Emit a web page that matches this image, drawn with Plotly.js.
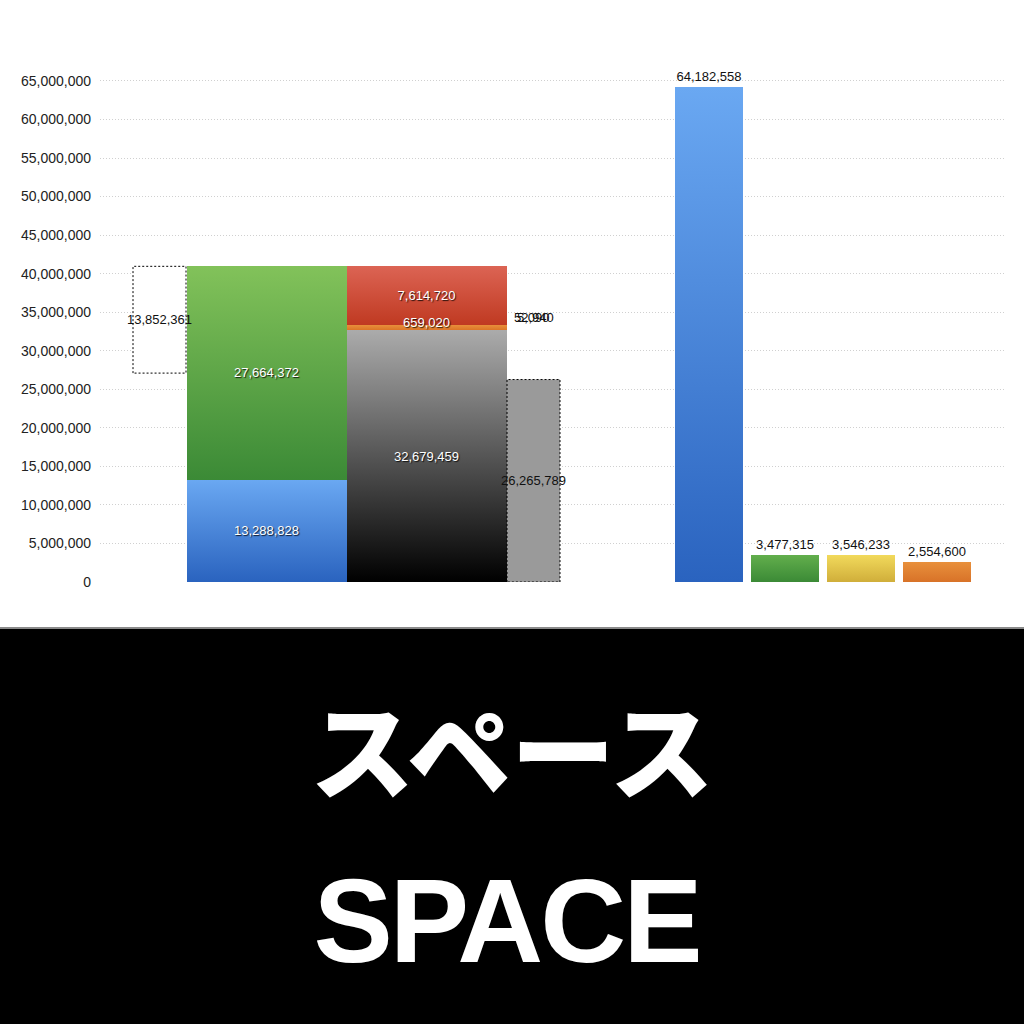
<!DOCTYPE html>
<html>
<head>
<meta charset="utf-8">
<script src="https://cdn.plot.ly/plotly-3.0.1.min.js"></script>
<style>
  html, body { margin: 0; padding: 0; background: #fff; }
  #chart { width: 1024px; height: 627px; }
  #banner {
    width: 1024px; height: 397px; background: #000; border-top: 2px solid #8a8a8a;
    box-sizing: border-box; position: relative; color: #fff; text-align: center;
  }
  #banner .jp {
    position: absolute; left: 0; right: 0; top: 58px;
    font-family: "Noto Sans CJK JP", sans-serif; font-weight: 900; font-size: 104px; line-height: 120px;
  }
  #banner .en {
    position: absolute; left: 0; right: 0; top: 227px;
    font-family: "Liberation Sans", Arial, sans-serif; font-weight: bold; font-size: 119px;
    line-height: 130px; letter-spacing: -3px; padding-left: 3px; padding-right: 14px;
  }
</style>
</head>
<body>
<div id="chart"></div>
<div id="banner"><div class="jp">スペース</div><div class="en">SPACE</div></div>
<script>
// values
const gapValue    = [13852361];
const stackBlue   = [13288828];
const stackGreen  = [27664372];
const stackGray   = [32679459];
const stackOrange = [659020];
const stackTiny   = [52940, 5090];
const stackRed    = [7614720];
const restValue   = [26265789];
const rightValues = [64182558, 3477315, 3546233, 2554600];

const fmt = v => v.toLocaleString('en-US');

// slot centres/widths in pixels from the left edge of the plot area
const slotGap   = { x: 59.5, w: 53 };
const slotA     = { x: 166.5, w: 160 };
const slotB     = { x: 326.5, w: 160 };
const slotRest  = { x: 433.5, w: 53 };
const rightX    = [609, 685, 761, 837];
const rightW    = 68;

const topA = stackBlue[0] + stackGreen[0];
const whiteText = { color: '#fff', size: 13, family: 'Liberation Sans, Arial, sans-serif',
                    shadow: '1px 1px 1px rgba(0,0,0,0.8)' };
const darkText  = { color: '#111', size: 13, family: 'Liberation Sans, Arial, sans-serif' };

function bar(x, w, y, base, fill, extra) {
  return Object.assign({
    type: 'bar', x: [x], y: y, width: [w], base: base,
    marker: { color: fill, line: { width: 0 } },
    textposition: 'none', hoverinfo: 'skip', showlegend: false,
  }, extra || {});
}

const inside = v => ({ text: v.map(fmt), textposition: 'inside', insidetextanchor: 'middle',
                       textfont: whiteText, constraintext: 'none' });

const tinyBase = stackGray[0] + stackOrange[0];
const traces = [
  bar(slotGap.x, slotGap.w, gapValue, [topA - gapValue[0]], '#ffffff',
      { marker: { color: '#ffffff', line: { width: 1, color: '#000' } } }),
  bar(slotA.x, slotA.w, stackBlue, [0], '#4a86d8', inside(stackBlue)),
  bar(slotA.x, slotA.w, stackGreen, [stackBlue[0]], '#5ea547', inside(stackGreen)),
  bar(slotB.x, slotB.w, stackGray, [0], '#555', inside(stackGray)),
  bar(slotB.x, slotB.w, stackOrange, [stackGray[0]], '#e2822e'),
  bar(slotB.x, slotB.w, [stackTiny[0]], [tinyBase], '#c84a30'),
  bar(slotB.x, slotB.w, [stackTiny[1]], [tinyBase + stackTiny[0]], '#c84a30'),
  bar(slotB.x, slotB.w, stackRed, [tinyBase + stackTiny[0] + stackTiny[1]], '#cc4a34', inside(stackRed)),
  bar(slotRest.x, slotRest.w, restValue, [0], '#9a9a9a',
      { marker: { color: '#9a9a9a', line: { width: 1, color: '#000' } } }),
];
const rightColors = ['#4a86d8', '#4f9a40', '#e2c64a', '#e07f30'];
rightValues.forEach((v, i) => {
  traces.push(bar(rightX[i], rightW, [v], [0], rightColors[i], {
    text: [fmt(v)], textposition: 'outside', textfont: darkText, cliponaxis: false,
  }));
});

// gradient and dash styling applied after drawing, per trace index
const gradients = {
  blue:   ['#6aa8f2', '#2a63bf'],
  green:  ['#82c25a', '#3b8a36'],
  gray:   ['#ababab', '#000000'],
  red:    ['#dc6454', '#c03a22'],
  orange: ['#e88f3a', '#dc7528'],
  tiny:   ['#c84a30', '#c84a30'],
  rgreen: ['#62ae4c', '#3b8a36'],
  yellow: ['#f2da5c', '#d0ae3a'],
  rorange:['#e8903c', '#d87228'],
};
const traceStyle = [
  { dash: true }, { g: 'blue' }, { g: 'green' }, { g: 'gray' }, { g: 'orange' },
  { g: 'tiny' }, { g: 'tiny' }, { g: 'red' }, { dash: true },
  { g: 'blue' }, { g: 'rgreen' }, { g: 'yellow' }, { g: 'rorange' },
];

const annotations = [
  { x: slotGap.x, y: topA - gapValue[0] / 2, text: fmt(gapValue[0]), font: darkText },
  { x: slotRest.x, y: restValue[0] / 2, text: fmt(restValue[0]), font: darkText },
  { x: slotB.x, y: stackGray[0] + stackOrange[0] / 2, yshift: 5, text: fmt(stackOrange[0]), font: whiteText },
  { x: slotRest.x, y: tinyBase, yshift: 8, text: fmt(stackTiny[0]), font: darkText },
  { x: slotRest.x, y: tinyBase, yshift: 8, text: fmt(stackTiny[1]), font: darkText },
].map(a => Object.assign({ xref: 'x', yref: 'y', showarrow: false }, a));

const layout = {
  width: 1024, height: 627,
  margin: { l: 100, r: 19, t: 60, b: 45 },
  paper_bgcolor: '#fff', plot_bgcolor: '#fff',
  barmode: 'overlay', bargap: 0,
  showlegend: false,
  xaxis: { range: [0, 905], visible: false, fixedrange: true },
  yaxis: {
    range: [0, 67720000], dtick: 5000000, tickformat: ',d',
    showgrid: true, gridcolor: '#d0d0d0', griddash: '1px,2px', gridwidth: 1,
    zeroline: false, showline: false, ticks: '', ticklabelstandoff: 8,
    tickfont: { family: 'Liberation Sans, Arial, sans-serif', size: 14, color: '#222' },
  },
  annotations: annotations,
};

Plotly.newPlot('chart', traces, layout, { staticPlot: true }).then(gd => {
  const svg = gd.querySelector('.main-svg');
  const ns = 'http://www.w3.org/2000/svg';
  const defs = document.createElementNS(ns, 'defs');
  Object.keys(gradients).forEach(k => {
    const lg = document.createElementNS(ns, 'linearGradient');
    lg.setAttribute('id', 'grad-' + k);
    lg.setAttribute('x1', '0'); lg.setAttribute('y1', '0');
    lg.setAttribute('x2', '0'); lg.setAttribute('y2', '1');
    gradients[k].forEach((c, i) => {
      const st = document.createElementNS(ns, 'stop');
      st.setAttribute('offset', i ? '1' : '0');
      st.setAttribute('stop-color', c);
      lg.appendChild(st);
    });
    defs.appendChild(lg);
  });
  svg.insertBefore(defs, svg.firstChild);

  gd.querySelectorAll('.barlayer .trace').forEach((tr, i) => {
    const s = traceStyle[i] || {};
    tr.querySelectorAll('.point path').forEach(p => {
      if (s.g) p.style.fill = 'url(#grad-' + s.g + ')';
      if (s.dash) { p.style.strokeDasharray = '2,2'; p.style.strokeWidth = '1px'; }
    });
  });
});
</script>
</body>
</html>
